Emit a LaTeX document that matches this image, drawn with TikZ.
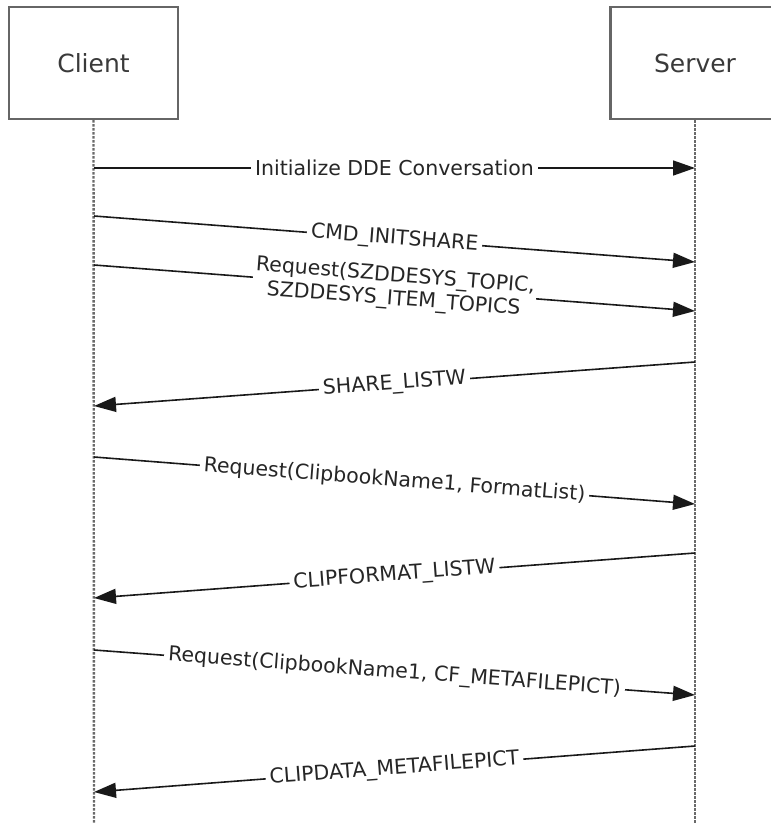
\documentclass[tikz,border=0pt]{standalone}
\usepackage{fontspec}
\setmainfont{DejaVu Sans}
\usepackage{tikz}
\usetikzlibrary{arrows.meta}

\definecolor{boxgray}{HTML}{666666}
\definecolor{lifegray}{HTML}{6A6A6A}
\definecolor{namegray}{HTML}{3A3A3A}

\tikzset{
  actor/.style={draw=boxgray, line width=2.2pt, minimum width=169pt,
    minimum height=112pt, text=namegray, font=\fontsize{25}{30}\selectfont},
  lifeline/.style={draw=lifegray, line width=2.4pt, dash pattern=on 2.4pt off 1.6pt},
  msg/.style={draw=black!90, line width=1.6pt,
    -{Triangle[length=22pt,width=15pt]}},
  lbl/.style={fill=white, inner sep=4pt, text=black!85, align=center,
    font=\fontsize{20.5}{23.5}\selectfont}
}

\begin{document}
\begin{tikzpicture}[x=1pt,y=-1pt]
  \useasboundingbox (0,0) rectangle (771,823);

  \node[actor] (client) at (93.5,63) {Client};
  \node[actor] (server) at (695,63) {Server};

  \coordinate (clientend) at (94,823);
  \coordinate (serverend) at (695,823);
  \draw[lifeline] (client.south) -- (clientend);
  \draw[lifeline] (server.south) -- (serverend);

  \foreach \n/\cy/\sy in {1/168/168, 2/216/262, 3/265/311, 4/406/362,
                          5/457/504, 6/598/553, 7/650/695, 8/792/746} {
    \coordinate (c\n) at (94,\cy);
    \coordinate (s\n) at (695,\sy);
  }

  \draw[msg] (c1) -- node[lbl] {Initialize DDE Conversation} (s1);
  \draw[msg] (c2) -- node[lbl,sloped] {CMD\_INITSHARE} (s2);
  \draw[msg] (c3) -- node[lbl,sloped,inner sep=2pt]
    {Request(SZDDESYS\_TOPIC,\\SZDDESYS\_ITEM\_TOPICS} (s3);
  \draw[msg] (s4) -- node[lbl,sloped] {SHARE\_LISTW} (c4);
  \draw[msg] (c5) -- node[lbl,sloped] {Request(ClipbookName1, FormatList)} (s5);
  \draw[msg] (s6) -- node[lbl,sloped] {CLIPFORMAT\_LISTW} (c6);
  \draw[msg] (c7) -- node[lbl,sloped] {Request(ClipbookName1, CF\_METAFILEPICT)} (s7);
  \draw[msg] (s8) -- node[lbl,sloped] {CLIPDATA\_METAFILEPICT} (c8);

\end{tikzpicture}
\end{document}
